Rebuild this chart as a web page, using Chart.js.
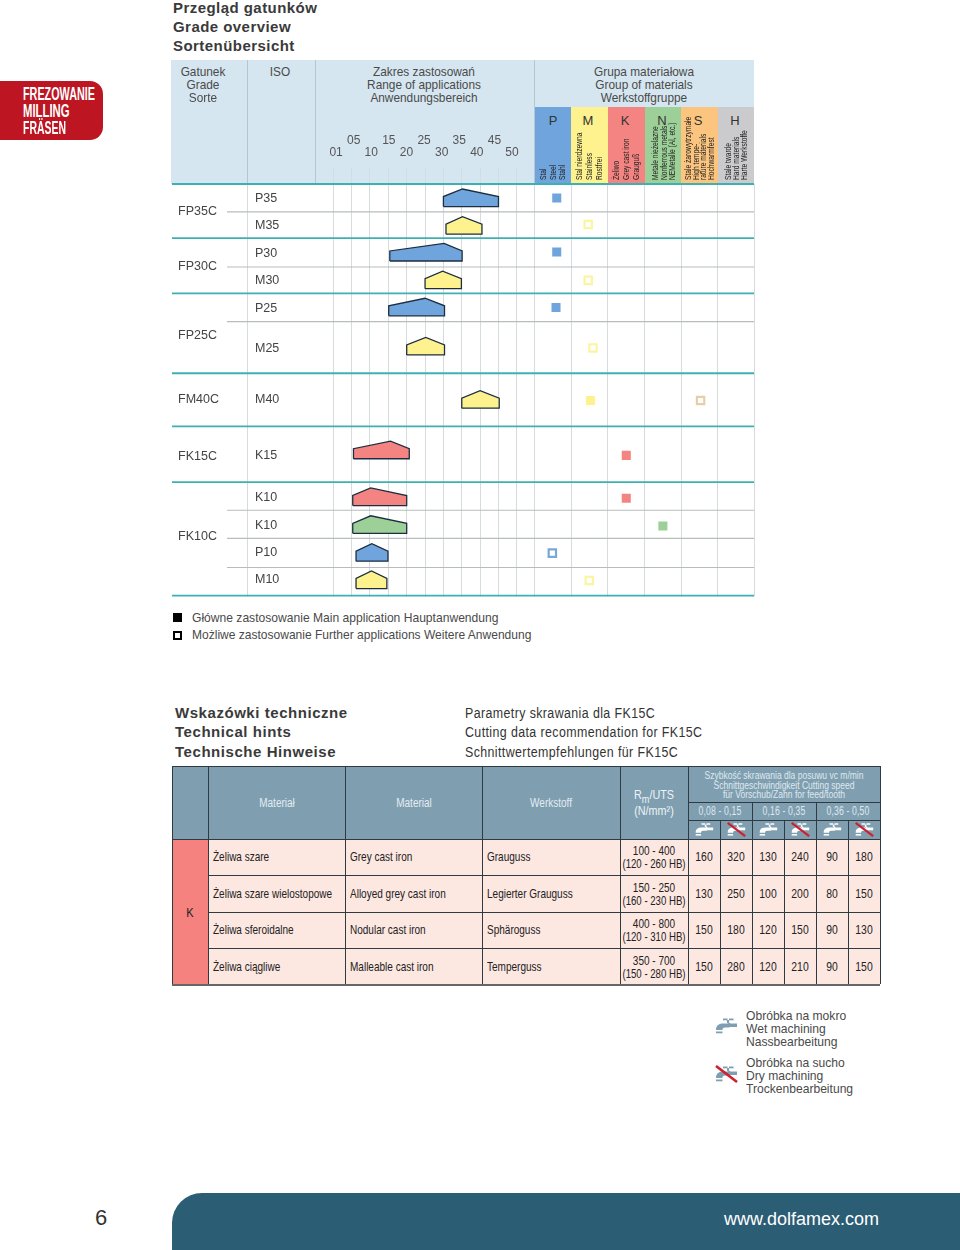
<!DOCTYPE html>
<html>
<head>
<meta charset="utf-8">
<script src="https://cdn.jsdelivr.net/npm/chart.js@4"></script>
<style>
html,body{margin:0;padding:0;background:#fff;}
#page{position:relative;width:960px;height:1250px;overflow:hidden;font-family:'Liberation Sans',Arial,sans-serif;color:#4a4a4a;}
#page div.t{position:absolute;white-space:pre;}
#page div.b{position:absolute;}
canvas#c{position:absolute;left:0;top:134px;z-index:2;}
svg.ic{position:absolute;z-index:3;}
</style>
</head>
<body>
<div id="page"><canvas id="c" width="960" height="470"></canvas></div>
<script>
/* ---------- chart data ---------- */
const rangeTickValues=[0,5,10,15,20,25,30,35,40,45,50];
const rangeTickLabels=['01','05','10','15','20','25','30','35','40','45','50'];
const isoLabels=['P35','M35','P30','M30','P25','M25','M40','K15','K10','K10','P10','M10'];
const isoRowY=[14,41.5,69,96.5,124,164,215,270.5,312.5,340,367,394.5];
const gradeLabels=['FP35C','FP30C','FP25C','FM40C','FK15C','FK10C'];
const gradeRowY=[27,82,151,215,271,351];
const rangeStart=[30,30.7,15.4,25,15.1,20,35,5.5,5.3,5.3,6.2,6.2];
const rangePeak=[35.2,35.2,30.2,29.8,25,25.2,40,15.6,10.2,10.2,10.5,10.4];
const rangeEnd=[45,40.5,35.1,34.9,30.3,30.3,45.2,20.7,20,20,14.9,14.6];
const rangeBaseY=[22.5,50,76.7,104.3,131.3,170.3,223.3,273.7,320.3,348,375.7,403];
const rangeGroup=['P','M','P','M','P','M','M','K','K','N','P','M'];
const markerMaterial=[0.6,1.46,0.6,1.46,0.58,1.59,1.52,4.53,2.5,2.5,3.5,0.48,1.49];
const markerY=[14,40.3,67.7,96,123,163.3,215.7,215.7,270.3,313,340.7,367.7,395];
const markerGroup=['P','M','P','M','P','M','M','S','K','K','N','P','M'];
const markerMain=[1,0,1,0,1,0,1,0,1,1,1,0,0];
const tealLines=[0,54,109,188.5,241.5,297,410];
const grayLines=[27.7,82.7,137,325,353,382];
const materialBoundaries=[0,1,2,3,4,5,6];
const groupColors={P:'#6fa5dc',M:'#fdf28e',K:'#f48482',N:'#9dd098',S:'#fbc57f',H:'#cbcbcd'};
const openMarkerColors={P:'#79a8d8',M:'#fbf4a0',S:'#e6cfa8'};

/* ---------- table data ---------- */
const tableHead=['Materiał','Material','Werkstoff'];
const tablePl=['Żeliwa szare','Żeliwa szare wielostopowe','Żeliwa sferoidalne','Żeliwa ciągliwe'];
const tableEn=['Grey cast iron','Alloyed grey cast iron','Nodular cast iron','Malleable cast iron'];
const tableDe=['Grauguss','Legierter Grauguss','Sphäroguss','Temperguss'];
const tableRm=['100 - 400','150 - 250','400 - 800','350 - 700'];
const tableHb=['(120 - 260 HB)','(160 - 230 HB)','(120 - 310 HB)','(150 - 280 HB)'];
const feedRanges=['0,08 - 0,15','0,16 - 0,35','0,36 - 0,50'];
const speeds=[[160,320,130,240,90,180],[130,250,100,200,80,150],[150,180,120,150,90,130],[150,280,120,210,90,150]];

/* ---------- page furniture ---------- */
const page=document.getElementById('page');
function T(s,x,y,o){o=o||{};const d=document.createElement('div');d.className='t';d.textContent=s;
 const lh=o.lh||16,sx=o.sx||1;d.style.lineHeight=lh+'px';d.style.height=lh+'px';d.style.left=x+'px';d.style.top=(y-lh/2)+'px';
 d.style.fontSize=(o.size||13)+'px';if(o.color)d.style.color=o.color;
 if(o.weight)d.style.fontWeight=o.weight;if(o.ls)d.style.letterSpacing=o.ls+'px';
 if(o.center){d.style.transform='translateX(-50%) scaleX('+sx+')';}
 else if(o.rot){d.style.transformOrigin='0 50%';d.style.transform='rotate(-90deg) scaleX('+sx+')';}
 else {d.style.transformOrigin='0 50%';d.style.transform='scaleX('+sx+')';}
 d.style.zIndex=o.z||3;page.appendChild(d);return d;}
function B(x,y,w,h,c,extra){const d=document.createElement('div');d.className='b';d.style.left=x+'px';d.style.top=y+'px';d.style.width=w+'px';d.style.height=h+'px';d.style.background=c;if(extra)Object.assign(d.style,extra);page.appendChild(d);return d;}
function faucet(x,y,col,dry,w){const ns='http://www.w3.org/2000/svg';const s=document.createElementNS(ns,'svg');s.setAttribute('class','ic');s.setAttribute('viewBox','0 0 24 18');s.setAttribute('width',w||20);s.setAttribute('height',(w||20)*0.75);s.style.left=x+'px';s.style.top=y+'px';
 s.innerHTML='<path fill="'+col+'" d="M2 13C2 8 5 6.5 10 6.5H14L15 5.6 16.5 6.5H23V10H16L14.5 10.5H11C9 10.5 8.5 11.5 8.5 13Z"/><rect fill="'+col+'" x="9" y="1.5" width="4.5" height="1.8"/><rect fill="'+col+'" x="15" y="1.5" width="4.5" height="1.8"/><rect fill="'+col+'" x="13" y="3" width="2" height="3"/><rect fill="'+col+'" x="2" y="14.5" width="6.5" height="1.8"/>'+(dry?'<line x1="2" y1="1" x2="23" y2="17" stroke="#cf2030" stroke-width="2.6"/>':'');
 page.appendChild(s);}

/* red tab */
B(0,81,103,59,'#bd1622',{borderRadius:'0 13px 13px 0'});
[['FREZOWANIE',94,.6],['MILLING',111,.63],['FRÄSEN',128,.58]].forEach(a=>T(a[0],23,a[1],{size:18,sx:a[2],weight:'bold',color:'#fff',lh:18}));

/* title */
[['Przegląd gatunków',8],['Grade overview',27],['Sortenübersicht',46]].forEach(a=>T(a[0],173,a[1],{size:15,weight:'bold',color:'#3a3a3a',ls:0.45,lh:18}));

/* header band */
B(171,60,583,124,'#d5e6f0');
[247,315,534].forEach(x=>B(x,60,1,124,'#b4c6d1'));
const hdr=[[203,['Gatunek','Grade','Sorte']],[280,['ISO']],[424,['Zakres zastosowań','Range of applications','Anwendungsbereich']],[644,['Grupa materiałowa','Group of materials','Werkstoffgruppe']]];
hdr.forEach(h=>h[1].forEach((s,i)=>T(s,h[0],72+i*13,{size:13,sx:.91,center:1})));

const colLetters=['P','M','K','N','S','H'];
const colX=[535,571,608,645,681,718,754];
const colCenter=[553,588,625,662,698,735];
colLetters.forEach((l,i)=>{B(colX[i],107,colX[i+1]-colX[i],76,groupColors[l]);T(l,colCenter[i],121,{size:13,center:1,color:'#333'});});
const sideTexts=[[543,'Stal'],[552.5,'Steel'],[562,'Stahl'],[579,'Stal nierdzewna'],[589,'Stainless'],[599,'Rostfrei'],[616,'Żeliwo'],[626,'Grey cast iron'],[636,'Grauguß'],[655,'Metale nieżelazne'],[663.5,'Nonferrous metals'],[672,'NEMetalle (Al, etc.)'],[688,'Stale żarowytrzymałe'],[695.5,'High tempe-'],[703,'rature materials'],[711,'Hochwarmfest'],[727.5,'Stale twarde'],[736,'Hard materials'],[744,'Harte Werkstoffe']];
sideTexts.forEach(a=>T(a[1],a[0],180,{size:9,sx:.74,color:'#222',rot:1,lh:10}));

/* legend under chart */
B(173,613,9,9,'#000');
B(173,631,5,5,'#fff',{border:'2px solid #000'});
T('Główne zastosowanie Main application Hauptanwendung',192,618,{size:13,sx:.93});
T('Możliwe zastosowanie Further applications Weitere Anwendung',192,635,{size:13,sx:.925});

/* technical hints headings */
[['Wskazówki techniczne',713],['Technical hints',732],['Technische Hinweise',752]].forEach(a=>T(a[0],175,a[1],{size:15,weight:'bold',color:'#3a3a3a',ls:0.55,lh:18}));
[['Parametry skrawania dla FK15C',713],['Cutting data recommendation for FK15C',732],['Schnittwertempfehlungen für FK15C',752]].forEach(a=>T(a[0],465,a[1],{size:15.5,sx:.8,color:'#333',ls:0.5,lh:18}));

/* cutting data table */
const L='#2f3a42';
B(172,766,708,73,'#7f9fb1');
B(172,839,36,145,'#f6827f');
B(208,839,672,145,'#fde7e1');
[766,839,875,912,948].forEach(y=>B(y===766||y===839?172:208,y,708-(y===766||y===839?0:36),1,L));
B(172,984,708,2,'#666');
[172,208,345,482,620,688,880].forEach((x,i)=>B(x,766,1,218,L));
B(688,802,192,1,L);B(688,820,192,1,L);
[752,816].forEach(x=>B(x,802,1,182,L));
[720,784,848].forEach(x=>B(x,820,1,164,L));
const hc=[276.5,413.5,551];
tableHead.forEach((s,i)=>T(s,hc[i],803,{size:12.5,sx:.8,color:'#e4edf2',center:1}));
T('Rm/UTS',654,795,{size:13,sx:.83,color:'#eef3f6',center:1}).innerHTML='R<sub style="font-size:11px;line-height:0">m</sub>/UTS';
T('(N/mm²)',654,811,{size:13,sx:.83,color:'#eef3f6',center:1});
['Szybkość skrawania dla posuwu vc m/min','Schnittgeschwindigkeit Cutting speed','für Vorschub/Zahn for feed/tooth'].forEach((s,i)=>T(s,784,775+i*9.6,{size:11.5,sx:.74,color:'#dfe8ee',center:1,lh:10}));
feedRanges.forEach((s,i)=>T(s,720+i*64,811,{size:12,sx:.72,color:'#dfe8ee',center:1,ls:0.2}));
[0,1,2,3,4,5].forEach(i=>faucet(694+i*32,822,'#fff',i%2===1,20));
T('K',190,913,{size:13,sx:.85,color:'#222',center:1});
const rowY=[857,894,930,967];
rowY.forEach((y,r)=>{
 T(tablePl[r],213,y,{size:13,sx:.77,color:'#222'});
 T(tableEn[r],350,y,{size:13,sx:.77,color:'#222'});
 T(tableDe[r],487,y,{size:13,sx:.77,color:'#222'});
 T(tableRm[r],654,y-6.5,{size:13,sx:.77,color:'#222',center:1,lh:13});
 T(tableHb[r],654,y+6.5,{size:13,sx:.74,color:'#222',center:1,lh:13});
 speeds[r].forEach((v,c)=>T(String(v),704+c*32,y,{size:13,sx:.8,color:'#222',center:1}));
});

/* machining legend */
faucet(714,1017,'#7f9fb1',false,24);
faucet(714,1065,'#7f9fb1',true,24);
[['Obróbka na mokro',1016],['Wet machining',1029],['Nassbearbeitung',1042],['Obróbka na sucho',1063],['Dry machining',1076],['Trockenbearbeitung',1089]].forEach(a=>T(a[0],746,a[1],{size:13,sx:.93}));

/* footer */
B(172,1193,788,57,'#2b5d75',{borderRadius:'30px 0 0 0'});
T('www.dolfamex.com',724,1219,{size:18,color:'#fff',lh:22});
T('6',95,1218,{size:22,color:'#333',lh:26});

/* ---------- chart ---------- */
const datasets=[];
const shoulderRise=10, peakRise=17.5;
rangeStart.forEach((s,i)=>{
 const b=rangeBaseY[i], e=rangeEnd[i], p=rangePeak[i];
 datasets.push({type:'scatter',showLine:true,xAxisID:'x',yAxisID:'y',
  data:[{x:s,y:b},{x:s,y:b-shoulderRise},{x:p,y:b-peakRise},{x:e,y:b-shoulderRise},{x:e,y:b},{x:s,y:b}],
  borderColor:'#1d2f3f',borderWidth:1.3,backgroundColor:groupColors[rangeGroup[i]],fill:'shape',pointRadius:0,tension:0,borderJoinStyle:'miter'});
});
markerMaterial.forEach((m,i)=>{
 const g=markerGroup[i], main=markerMain[i];
 datasets.push({type:'scatter',xAxisID:'x2',yAxisID:'y',data:[{x:m,y:markerY[i]}],pointStyle:'rect',
  pointRadius:main?6.4:5.2,
  pointBackgroundColor:main?groupColors[g]:'#ffffff',
  pointBorderColor:main?groupColors[g]:openMarkerColors[g],
  pointBorderWidth:main?0:2.2});
});
const separatorLines={id:'separatorLines',beforeDatasetsDraw(chart){
 const c=chart.ctx,y=chart.scales.y,a=chart.chartArea;c.save();
 c.strokeStyle='#b9bcbd';c.lineWidth=1.2;
 grayLines.forEach(v=>{const p=y.getPixelForValue(v);c.beginPath();c.moveTo(a.left+56,p);c.lineTo(a.right,p);c.stroke();});
 c.strokeStyle='#3fb0b2';c.lineWidth=1.8;
 tealLines.forEach(v=>{const p=y.getPixelForValue(v);c.beginPath();c.moveTo(a.left+1,p);c.lineTo(a.right,p);c.stroke();});
 c.restore();}};
const axisFont={family:"'Liberation Sans',Arial,sans-serif",size:12.5};
const noYPad=s=>{s.width=0;s.paddingTop=0;s.paddingBottom=0;};
new Chart(document.getElementById('c'),{
 type:'scatter',
 data:{datasets},
 plugins:[separatorLines],
 options:{responsive:false,animation:false,events:[],
  layout:{padding:{left:171,right:206,top:0,bottom:2}},
  plugins:{legend:{display:false},tooltip:{enabled:false}},
  scales:{
   xLabels:{type:'linear',position:'top',weight:2,min:-46.9,max:118.75,afterBuildTicks(s){s.ticks=rangeTickValues.map(v=>({value:v}));},
     afterFit(s){s.height=34;s.paddingLeft=0;s.paddingRight=0;},grid:{display:false,drawTicks:false},border:{display:false},
     ticks:{autoSkip:false,maxRotation:0,minRotation:0,padding:9,color:'#555',font:{family:"'Liberation Sans',Arial,sans-serif",size:12,lineHeight:1},
       callback:(v,i)=>{const l=rangeTickLabels[i];return i%2?[l,'']:['',l];}}},
   x:{type:'linear',position:'top',weight:1,min:-44.2,max:114.6,afterBuildTicks(s){s.ticks=rangeTickValues.map(v=>({value:v}));},
     afterFit(s){s.height=16;},
     grid:{color:'#d6dbde',lineWidth:1,tickLength:16,tickColor:'#d6dbde'},border:{display:false},ticks:{display:false}},
   x2:{type:'linear',position:'top',weight:0,min:-9.94,max:5.99,afterBuildTicks(s){s.ticks=[-7.86].concat(materialBoundaries).map(v=>({value:v}));},
     afterFit(s){s.height=0;},
     grid:{color:'#d6dbde',lineWidth:1,drawTicks:false},border:{display:false},ticks:{display:false}},
   y:{type:'linear',position:'left',min:0,max:411,reverse:true,afterBuildTicks(s){s.ticks=isoRowY.map(v=>({value:v}));},
     afterFit:noYPad,
     grid:{display:false,drawTicks:false},border:{display:false},
     ticks:{mirror:true,padding:84,autoSkip:false,color:'#444',font:axisFont,callback:(v,i)=>isoLabels[i]}},
   y2:{type:'linear',position:'left',min:0,max:411,reverse:true,afterBuildTicks(s){s.ticks=gradeRowY.map(v=>({value:v}));},
     afterFit:noYPad,
     grid:{display:false,drawTicks:false},border:{display:false},
     ticks:{mirror:true,padding:7,autoSkip:false,color:'#444',font:axisFont,callback:(v,i)=>gradeLabels[i]}}
  }}
});
</script>
</body>
</html>
